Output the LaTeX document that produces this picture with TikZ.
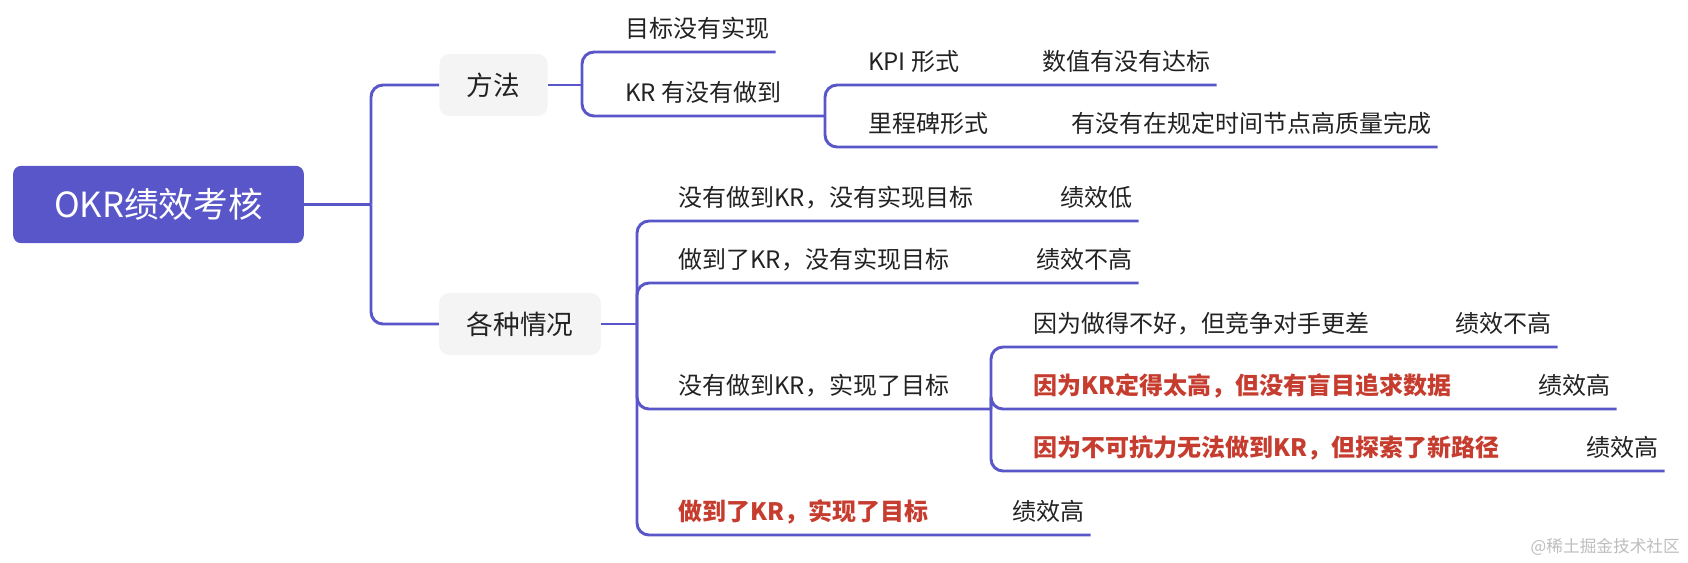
\documentclass[tikz,border=0pt]{standalone}
\usepackage{fontspec}
\setmainfont{Noto Sans CJK SC}
\usepackage{tikz}
\usetikzlibrary{positioning}
\definecolor{mmline}{HTML}{5856C8}
\definecolor{mmroot}{HTML}{5856C8}
\definecolor{mmgray}{HTML}{F4F4F5}
\definecolor{mmred}{HTML}{C63D2F}
\definecolor{mmtext}{HTML}{222222}
\definecolor{mmwater}{HTML}{BDBDBD}

\begin{document}
\begin{tikzpicture}[x=0.75pt,y=-0.75pt,
  branch/.style={draw=mmline,line width=2.2pt,rounded corners=9pt},
  rootbox/.style={fill=mmroot,text=white,rounded corners=6pt,minimum width=218pt,minimum height=58pt,font=\fontsize{26}{26}\selectfont},
  mainbox/.style={fill=mmgray,text=mmtext,rounded corners=7.5pt,inner xsep=20.6pt,minimum height=46.5pt,font=\fontsize{20}{20}\selectfont},
  leaf/.style={anchor=south west,inner xsep=4.5pt,inner ysep=0pt,text height=14pt,text depth=10.5pt,text=mmtext,font=\fontsize{18}{18}\selectfont},
  hot/.style={leaf,text=mmred,font=\fontsize{18}{18}\selectfont\bfseries},
  wmtext/.style={text=mmwater,inner sep=0pt,font=\fontsize{12.5}{12.5}\selectfont}]
  \useasboundingbox (0,0) rectangle (1688,562);

  \node[rootbox] (root) at (158.5,204.5) {OKR绩效考核};
  \node[mainbox] (fa) at (493.5,85) {方法};
  \node[mainbox] (gz) at (520,324) {各种情况};
  \coordinate (t) at (371,204.5);
  \coordinate (b1) at (582,85);
  \coordinate (b2) at (825,116);
  \coordinate (b3) at (637,324);
  \coordinate (b4) at (991,409);

  \node[leaf] (mb) at (619,52) {目标没有实现};
  \node[leaf] (kr) at (619,116) {KR 有没有做到};
  \node[leaf] (kpi) at (862,85) {KPI 形式};
  \node[leaf] (kpiv) at (1036,85) {数值有没有达标};
  \node[leaf] (lcb) at (862,147) {里程碑形式};
  \node[leaf] (lcbv) at (1065,147) {有没有在规定时间节点高质量完成};

  \node[leaf] (c1) at (672,221) {没有做到KR，没有实现目标};
  \node[leaf] (c1v) at (1054,221) {绩效低};
  \node[leaf] (c2) at (672,283) {做到了KR，没有实现目标};
  \node[leaf] (c2v) at (1030,283) {绩效不高};
  \node[leaf] (c3) at (672,409) {没有做到KR，实现了目标};
  \node[leaf] (d1) at (1027,347) {因为做得不好，但竞争对手更差};
  \node[leaf] (d1v) at (1449,347) {绩效不高};
  \node[hot] (d2) at (1027,409) {因为KR定得太高，但没有盲目追求数据};
  \node[leaf] (d2v) at (1532,409) {绩效高};
  \node[hot] (d3) at (1027,471) {因为不可抗力无法做到KR，但探索了新路径};
  \node[leaf] (d3v) at (1580,471) {绩效高};
  \node[hot] (c4) at (672,535) {做到了KR，实现了目标};
  \node[leaf] (c4v) at (1006,535) {绩效高};

  \draw[branch] (root.east) -- (t);
  \foreach \n in {fa,gz} \draw[branch] (t) |- (\n.west);
  \draw[branch] (fa.east) -- (b1);
  \draw[branch] (b1) |- (mb.south east);
  \draw[branch] (b1) |- (b2);
  \foreach \n in {kpiv,lcbv} \draw[branch] (b2) |- (\n.south east);
  \draw[branch] (gz.east) -- (b3);
  \foreach \n in {c1v,c2v,c4v} \draw[branch] (b3) |- (\n.south east);
  \draw[branch] (b3) |- (b4);
  \foreach \n in {d1v,d2v,d3v} \draw[branch] (b4) |- (\n.south east);

  \node[wmtext,anchor=east] (wm) at (1680,547) {@稀土掘金技术社区};
\end{tikzpicture}
\end{document}
